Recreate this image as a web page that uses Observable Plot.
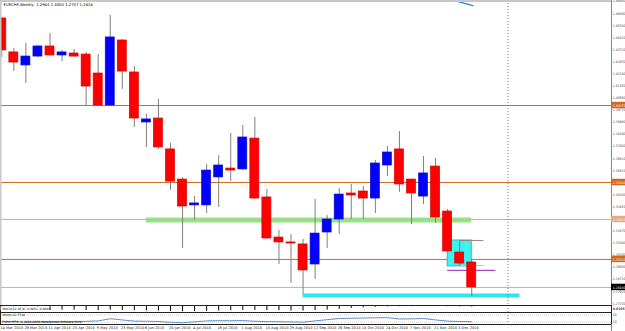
<!DOCTYPE html>
<html>
<head>
<meta charset="utf-8">
<script src="https://cdn.jsdelivr.net/npm/d3@7"></script>
<script src="https://cdn.jsdelivr.net/npm/@observablehq/plot@0.6"></script>
<style>
html,body{margin:0;padding:0;background:#fff;}
#wrap{position:relative;width:625px;height:331px;overflow:hidden;background:#fff;}
#wrap svg{position:absolute;left:0;overflow:visible;}
</style>
</head>
<body>
<div id="wrap"></div>
<script>
// ---------- data (EURCHF weekly) ----------
const titleText = "EURCHF,Weekly  1.2984 1.3004 1.2757 1.2818";
const open  = [1.4576,1.4354,1.4269,1.4327,1.4393,1.4334,1.4347,1.4340,1.4216,1.4007,1.4432,1.4223,1.3896,1.3922,1.3720,1.3523,1.3354,1.3354,1.3537,1.3595,1.3589,1.3791,1.3406,1.3144,1.3112,1.3099,1.2968,1.3177,1.3262,1.3432,1.3445,1.3399,1.3615,1.3720,1.3523,1.3412,1.3608,1.3314,1.3046,1.2981];
const high  = [1.4580,1.4380,1.4412,1.4399,1.4478,1.4367,1.4373,1.4354,1.4340,1.4595,1.4438,1.4262,1.3948,1.4046,1.3759,1.3537,1.3412,1.3622,1.3680,1.3824,1.3876,1.3929,1.3458,1.3190,1.3164,1.3131,1.3393,1.3288,1.3465,1.3491,1.3478,1.3648,1.3739,1.3837,1.3523,1.3674,1.3661,1.3327,1.3125,1.3001];
const low   = [1.4321,1.4229,1.4151,1.4321,1.4334,1.4295,1.4321,1.4007,1.4007,1.4007,1.4112,1.3863,1.3733,1.3720,1.3452,1.3072,1.3255,1.3301,1.3340,1.3510,1.3585,1.3395,1.3135,1.2968,1.2844,1.2772,1.2870,1.3072,1.3164,1.3262,1.3262,1.3301,1.3543,1.3439,1.3229,1.3360,1.3236,1.3053,1.2955,1.2759];
const close = [1.4367,1.4288,1.4327,1.4393,1.4334,1.4354,1.4327,1.4131,1.4007,1.4452,1.4229,1.3922,1.3916,1.3733,1.3510,1.3347,1.3367,1.3582,1.3615,1.3582,1.3798,1.3399,1.3138,1.3112,1.3105,1.2929,1.3170,1.3262,1.3425,1.3419,1.3399,1.3628,1.3700,1.3491,1.3432,1.3563,1.3275,1.3053,1.2974,1.2818];

const dateLabels = ["14 Mar 2010","28 Mar 2010","11 Apr 2010","25 Apr 2010","9 May 2010","23 May 2010","6 Jun 2010","20 Jun 2010","4 Jul 2010","18 Jul 2010","1 Aug 2010","15 Aug 2010","29 Aug 2010","12 Sep 2010","26 Sep 2010","10 Oct 2010","24 Oct 2010","7 Nov 2010","21 Nov 2010","5 Dec 2010"];
const priceTicks = [1.2713,1.2792,1.2871,1.2950,1.3029,1.3108,1.3187,1.3266,1.3345,1.3424,1.3503,1.3582,1.3661,1.3740,1.3819,1.3898,1.3977,1.4056,1.4135,1.4214,1.4293,1.4372,1.4451,1.4530,1.4609,1.4688];

// horizontal support / resistance lines
const levelPrices = [1.4007, 1.3504, 1.3262, 1.3001];
const levelColors = ["#d2691e", "#d2691e", "#e6a88c", "#d2691e"];
const bidPrice = 1.2818;

// drawn objects (bar index / price)
const greenZone   = {price: 1.3259, from: 12, to: 39};
const cyanLine    = {price: 1.2766, from: 25, to: 43};
const cyanBox     = {x1: 37, x2: 39, y1: 1.2955, y2: 1.3125};
const greyLine    = {price: 1.3125, from: 38, to: 40};
const pinkLine    = {price: 1.2961, from: 38, to: 40};
const purpleLine  = {price: 1.2929, from: 37, to: 41};
const blueTrend   = [{i: 37.8, p: 1.4687}, {i: 39.1, p: 1.4660}];
const shiftBar    = 42;

// indicators
const macdLabel = "MACD(12,26,9) -0.0051 -0.0049";
const macd = [-0.016,-0.017,-0.017,-0.017,-0.016,-0.016,-0.016,-0.017,-0.018,-0.016,-0.017,-0.018,-0.019,-0.019,-0.020,-0.021,-0.021,-0.020,-0.019,-0.018,-0.017,-0.017,-0.018,-0.018,-0.019,-0.019,-0.018,-0.016,-0.013,-0.010,-0.008,-0.006,-0.005,-0.004,-0.004,-0.003,-0.003,-0.004,-0.005,-0.0051];
const macdScale = ["0.0195"];
const rsiLabel = "RSI(8) 22.7518";
const copyright = "FxPro MT4, \u00a9 2001-2010 MetaQuotes Software Corp.";
const rsi = [24,25,22,23,24,24,24,26,30,48,38,28,27,25,18,15,22,30,32,31,33,27,24,23,22,19,30,40,50,52,54,56,57,46,47,50,38,28,25,22.75];
const rsiLevels = [20, 80];

// ---------- drawing ----------
const FONT = "'DejaVu Sans', sans-serif";
const AXFONT = "'DejaVu Sans Condensed', 'Liberation Sans Narrow', sans-serif";
const XDOM = [-0.108, 50.598];            // bar index range across the plot area
const XR = XDOM[1], XL = XDOM[0];
const W = 625, MR = 14;
const wrap = document.getElementById("wrap");
const candles = open.map((o, i) => ({i, o, h: high[i], l: low[i], c: close[i], up: close[i] >= o}));
const levels = levelPrices.map((p, k) => ({p, color: levelColors[k]}));
const fmt5 = d => d.toFixed(5);
const half = 0.373;   // half body width in bars
const pad = 0.0021;   // half label-box height in price units
const atRight = () => XR;
const axText = {textAnchor: "start", dx: 1.3, fontSize: 3.4, fontFamily: AXFONT};

const main = Plot.plot({
  width: W, height: 305, marginLeft: 0, marginRight: MR, marginTop: 0, marginBottom: 0,
  style: {fontFamily: FONT, background: "transparent"},
  x: {type: "linear", domain: XDOM, axis: null},
  y: {type: "linear", domain: [1.26999, 1.46934], axis: null},
  marks: [
    Plot.ruleY(levels, {y: "p", stroke: "color", strokeWidth: 1}),
    Plot.ruleY([bidPrice], {y: d => d, stroke: "#b4b4b4", strokeWidth: 1}),
    Plot.ruleY([greenZone], {y: "price", x1: "from", x2: "to", stroke: "#8fdf7c", strokeWidth: 5, strokeOpacity: 0.9}),
    Plot.ruleY([cyanLine], {y: "price", x1: "from", x2: "to", stroke: "#2ee4ee", strokeWidth: 4}),
    Plot.rect([cyanBox], {x1: "x1", x2: "x2", y1: "y1", y2: "y2", fill: "#3df2f2", stroke: "#2aa7a7", strokeWidth: 0.8}),
    Plot.ruleY([greyLine], {y: "price", x1: "from", x2: "to", stroke: "#9a8080", strokeWidth: 1}),
    Plot.ruleY([pinkLine], {y: "price", x1: "from", x2: "to", stroke: "#e0b0d0", strokeWidth: 1}),
    Plot.ruleY([purpleLine], {y: "price", x1: "from", x2: "to", stroke: "#a54ac8", strokeWidth: 1.2}),
    Plot.ruleX([shiftBar], {x: d => d, stroke: "#777", strokeDasharray: "1,2", strokeWidth: 1}),
    Plot.ruleX(candles, {x: "i", y1: "l", y2: "h", stroke: "#7f7f7f", strokeWidth: 1}),
    Plot.rect(candles, {
      x1: d => d.i - half, x2: d => d.i + half, y1: "o", y2: "c",
      fill: d => d.up ? "#0000ff" : "#ff0000",
      stroke: d => d.up ? "#1010c8" : "#d80000", strokeWidth: 0.7
    }),
    Plot.line(blueTrend, {x: "i", y: "p", stroke: "#2f7fd0", strokeWidth: 1.3}),
    // frame lines
    Plot.ruleX([XR], {x: d => d, stroke: "#888", strokeWidth: 1}),
    Plot.ruleX([XL], {x: d => d, stroke: "#c8c8c8", strokeWidth: 2}),
    Plot.ruleY([1.46934], {y: d => d, stroke: "#c8c8c8", strokeWidth: 3}),
    Plot.ruleY([1.26999], {y: d => d, stroke: "#222", strokeWidth: 1}),
    // price axis
    Plot.ruleY(priceTicks, {y: d => d, x1: atRight, x2: () => XR + 0.1, stroke: "#888", strokeWidth: 1}),
    Plot.text(priceTicks, {y: d => d, x: atRight, text: fmt5, fill: "#444", ...axText}),
    // level labels
    Plot.rect(levels, {y1: d => d.p - pad, y2: d => d.p + pad, x1: atRight, x2: () => XR + 1.2, fill: "color"}),
    Plot.text(levels, {y: "p", x: atRight, text: d => fmt5(d.p), fill: "#fff3e8", ...axText}),
    // bid label
    Plot.rect([bidPrice], {y1: d => d - pad, y2: d => d + pad, x1: atRight, x2: () => XR + 1.2, fill: "#000"}),
    Plot.text([bidPrice], {y: d => d, x: atRight, text: fmt5, fill: "#fff", ...axText}),
    // title
    Plot.text([titleText], {frameAnchor: "top-left", dx: 3, dy: 3, fontSize: 3.8, fill: "#000", text: d => d})
  ]
});
main.style.top = "0px";
wrap.appendChild(main);

const macdPlot = Plot.plot({
  width: W, height: 7, marginLeft: 0, marginRight: MR, marginTop: 0, marginBottom: 0,
  style: {fontFamily: FONT, background: "transparent"},
  x: {type: "linear", domain: XDOM, axis: null},
  y: {type: "linear", domain: [-0.024, 0], axis: null},
  marks: [
    Plot.ruleX(macd.map((v, i) => ({i, v})), {x: "i", y1: () => 0, y2: "v", stroke: "#000", strokeWidth: 1}),
    Plot.ruleX([shiftBar], {x: d => d, stroke: "#777", strokeDasharray: "1,2"}),
    Plot.frame({stroke: "#222", strokeWidth: 1}),
    Plot.rect([0], {x1: () => XL + 0.05, x2: () => XL + 4.1, y1: () => -0.0175, y2: () => -0.0045, fill: "#fff"}),
    Plot.text([macdLabel], {frameAnchor: "left", dx: 2, fontSize: 3, fill: "#000", text: d => d}),
    Plot.text(macdScale, {x: atRight, y: () => -0.012, fill: "#444", fontWeight: "bold", text: d => d, ...axText})
  ]
});
macdPlot.style.top = "305px";
wrap.appendChild(macdPlot);

const rsiPlot = Plot.plot({
  width: W, height: 12, marginLeft: 0, marginRight: MR, marginTop: 0, marginBottom: 0,
  style: {fontFamily: FONT, background: "transparent"},
  x: {type: "linear", domain: XDOM, axis: null},
  y: {type: "linear", domain: [0, 100], axis: null},
  marks: [
    Plot.ruleY(rsiLevels, {y: d => d, stroke: "#aaa", strokeDasharray: "1,1", strokeWidth: 0.6}),
    Plot.line(rsi.map((v, i) => ({i, v})), {x: "i", y: "v", stroke: "#4a86c0", strokeWidth: 0.9}),
    Plot.ruleX([shiftBar], {x: d => d, stroke: "#777", strokeDasharray: "1,2"}),
    Plot.frame({stroke: "#222", strokeWidth: 1}),
    Plot.text([rsiLabel], {frameAnchor: "top-left", dx: 2, dy: 1, fontSize: 3, fill: "#000", text: d => d}),
    Plot.text([copyright], {frameAnchor: "bottom-left", dx: 2, dy: -1.5, fontSize: 3, fill: "#000", text: d => d}),
    Plot.text(rsiLevels, {y: d => d, x: atRight, fill: "#444", text: d => String(d), ...axText})
  ]
});
rsiPlot.style.top = "312px";
wrap.appendChild(rsiPlot);

const datePlot = Plot.plot({
  width: W, height: 7, marginLeft: 0, marginRight: MR, marginTop: 0, marginBottom: 0,
  style: {fontFamily: FONT, background: "transparent"},
  x: {type: "linear", domain: XDOM, axis: null},
  marks: [
    Plot.text(dateLabels.map((t, k) => ({t, i: k * 2})), {x: "i", text: "t", textAnchor: "start", dx: -1.5, fontSize: 3.6, fill: "#222", frameAnchor: "middle"}),
    Plot.ruleX([XR], {x: d => d, stroke: "#888"})
  ]
});
datePlot.style.top = "324px";
wrap.appendChild(datePlot);
</script>
</body>
</html>
